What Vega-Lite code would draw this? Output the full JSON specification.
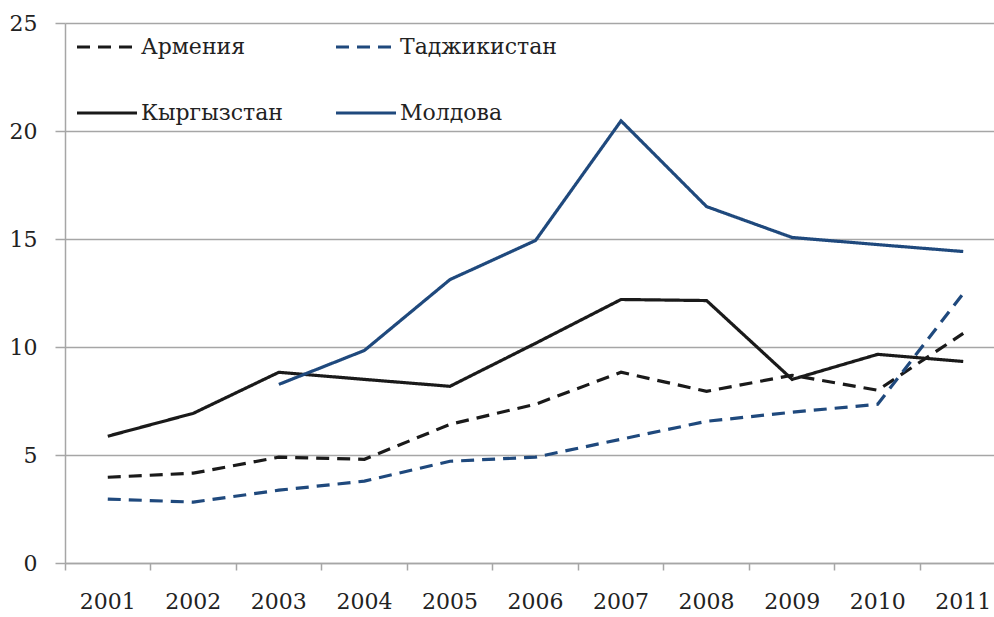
{
  "$schema": "https://vega.github.io/schema/vega-lite/v6.json",
  "width": 929,
  "height": 540,
  "autosize": "none",
  "padding": {"left": 65, "top": 23, "right": 0, "bottom": 54},
  "background": "white",
  "config": {
    "view": {"stroke": null},
    "font": "DejaVu Serif"
  },
  "data": {
    "values": [
      {"year": "2001", "country": "Армения", "value": 3.97},
      {"year": "2002", "country": "Армения", "value": 4.16},
      {"year": "2003", "country": "Армения", "value": 4.9},
      {"year": "2004", "country": "Армения", "value": 4.8},
      {"year": "2005", "country": "Армения", "value": 6.42},
      {"year": "2006", "country": "Армения", "value": 7.35},
      {"year": "2007", "country": "Армения", "value": 8.83},
      {"year": "2008", "country": "Армения", "value": 7.95},
      {"year": "2009", "country": "Армения", "value": 8.69},
      {"year": "2010", "country": "Армения", "value": 8.0},
      {"year": "2011", "country": "Армения", "value": 10.63},
      {"year": "2001", "country": "Таджикистан", "value": 2.96},
      {"year": "2002", "country": "Таджикистан", "value": 2.82},
      {"year": "2003", "country": "Таджикистан", "value": 3.37},
      {"year": "2004", "country": "Таджикистан", "value": 3.79},
      {"year": "2005", "country": "Таджикистан", "value": 4.71},
      {"year": "2006", "country": "Таджикистан", "value": 4.9},
      {"year": "2007", "country": "Таджикистан", "value": 5.73},
      {"year": "2008", "country": "Таджикистан", "value": 6.56},
      {"year": "2009", "country": "Таджикистан", "value": 6.98},
      {"year": "2010", "country": "Таджикистан", "value": 7.35},
      {"year": "2011", "country": "Таджикистан", "value": 12.48},
      {"year": "2001", "country": "Кыргызстан", "value": 5.87},
      {"year": "2002", "country": "Кыргызстан", "value": 6.93},
      {"year": "2003", "country": "Кыргызстан", "value": 8.83},
      {"year": "2004", "country": "Кыргызстан", "value": 8.5},
      {"year": "2005", "country": "Кыргызстан", "value": 8.18},
      {"year": "2006", "country": "Кыргызстан", "value": 10.17},
      {"year": "2007", "country": "Кыргызстан", "value": 12.2},
      {"year": "2008", "country": "Кыргызстан", "value": 12.15},
      {"year": "2009", "country": "Кыргызстан", "value": 8.5},
      {"year": "2010", "country": "Кыргызстан", "value": 9.66},
      {"year": "2011", "country": "Кыргызстан", "value": 9.33},
      {"year": "2003", "country": "Молдова", "value": 8.27},
      {"year": "2004", "country": "Молдова", "value": 9.84},
      {"year": "2005", "country": "Молдова", "value": 13.12},
      {"year": "2006", "country": "Молдова", "value": 14.93},
      {"year": "2007", "country": "Молдова", "value": 20.47},
      {"year": "2008", "country": "Молдова", "value": 16.5},
      {"year": "2009", "country": "Молдова", "value": 15.07},
      {"year": "2010", "country": "Молдова", "value": 14.74},
      {"year": "2011", "country": "Молдова", "value": 14.42}
    ]
  },
  "mark": {"type": "line", "strokeWidth": 3.2, "strokeCap": "butt", "strokeJoin": "miter"},
  "encoding": {
    "x": {
      "field": "year",
      "type": "ordinal",
      "bandPosition": 0.5,
      "scale": {"type": "band", "range": [0, 941], "paddingInner": 0, "paddingOuter": 0},
      "axis": {
        "title": null,
        "bandPosition": 0,
        "labelOffset": 0,
        "labelAngle": 0,
        "labelFont": "DejaVu Serif",
        "labelFontSize": 22,
        "labelColor": "#222222",
        "labelPadding": 21,
        "labelLimit": 0,
        "labelOverlap": false,
        "labelBound": false,
        "tickSize": 7,
        "tickColor": "#a6a6a6",
        "tickWidth": 1.5,
        "domainColor": "#a6a6a6",
        "domainWidth": 1.5,
        "grid": false
      }
    },
    "y": {
      "field": "value",
      "type": "quantitative",
      "scale": {"domain": [0, 25], "nice": false},
      "axis": {
        "title": null,
        "values": [0, 5, 10, 15, 20, 25],
        "labelFont": "DejaVu Serif",
        "labelFontSize": 22,
        "labelColor": "#222222",
        "labelPadding": 18,
        "tickSize": 10,
        "tickColor": "#a6a6a6",
        "tickWidth": 1.5,
        "domainColor": "#a6a6a6",
        "domainWidth": 1.5,
        "grid": true,
        "gridColor": "#a6a6a6",
        "gridWidth": 1.5
      }
    },
    "color": {
      "field": "country",
      "type": "nominal",
      "scale": {
        "domain": ["Армения", "Таджикистан", "Кыргызстан", "Молдова"],
        "range": ["#1a1a1a", "#1f497d", "#1a1a1a", "#1f497d"]
      },
      "legend": {
        "title": null,
        "orient": "none",
        "legendX": 10,
        "legendY": -8,
        "columns": 2,
        "direction": "horizontal",
        "symbolType": "stroke",
        "symbolSize": 3600,
        "symbolStrokeWidth": 3.2,
        "labelFont": "DejaVu Serif",
        "labelFontSize": 22,
        "labelLimit": 0,
        "labelColor": "#222222",
        "labelOffset": 2,
        "rowPadding": 23,
        "columnPadding": 46,
        "padding": 0
      }
    },
    "strokeDash": {
      "field": "country",
      "type": "nominal",
      "scale": {
        "domain": ["Армения", "Таджикистан", "Кыргызстан", "Молдова"],
        "range": [[13, 8], [13, 8], [1, 0], [1, 0]]
      },
      "legend": {
        "title": null,
        "orient": "none",
        "legendX": 10,
        "legendY": -8,
        "columns": 2,
        "direction": "horizontal",
        "symbolType": "stroke",
        "symbolSize": 3600,
        "symbolStrokeWidth": 3.2,
        "labelFont": "DejaVu Serif",
        "labelFontSize": 22,
        "labelLimit": 0,
        "labelColor": "#222222",
        "labelOffset": 2,
        "rowPadding": 23,
        "columnPadding": 46,
        "padding": 0
      }
    }
  }
}
